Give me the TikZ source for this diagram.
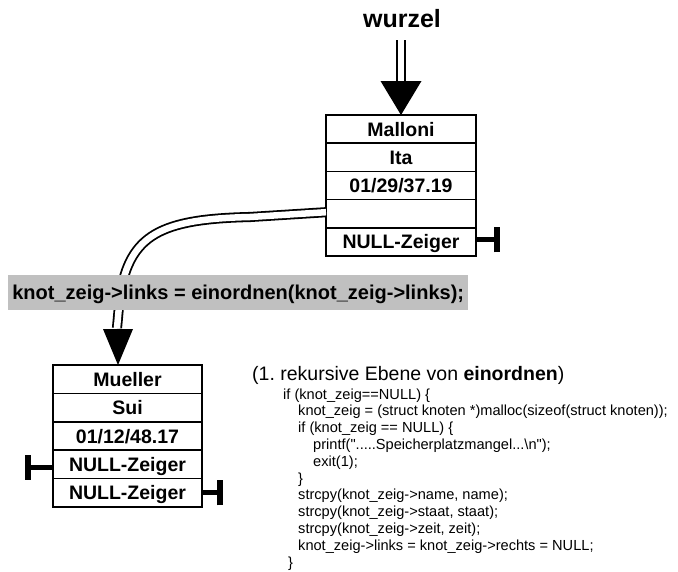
\documentclass[tikz,border=0pt]{standalone}
\usepackage{fontspec}
\setmainfont{Liberation Sans}
\newfontfamily\plainsans{Liberation Sans}
\usetikzlibrary{calc}
\definecolor{barfill}{RGB}{192,192,192}

\tikzset{
  cell/.style={draw, line width=1.6pt, minimum width=150pt, minimum height=28.2pt,
    inner sep=0pt, outer sep=0pt, text height=14pt, text depth=0pt,
    font=\fontsize{19.5}{22}\selectfont\bfseries},
  frame/.style={line width=2.8pt},
  dbl/.style={draw=black, line width=1.8pt, double=white, double distance=6.5pt},
  stub/.style={line width=5pt},
  endbar/.style={line width=5.5pt},
  code/.style={anchor=base west, inner sep=0pt, font=\plainsans\fontsize{14.6}{16.8}\selectfont},
}

\begin{document}
\frenchspacing
\begin{tikzpicture}[x=1pt,y=-1pt]
\useasboundingbox (0,0) rectangle (678,571);

% root pointer
\node[anchor=base, inner sep=0pt, font=\fontsize{25}{30}\selectfont\bfseries] (wurzel) at (402,27) {wurzel};
\coordinate (wstart) at (401,40);
\coordinate (wbase) at (401,81);

% first node: Malloni
\node[cell] (m1) at (401,129.1) {Malloni};
\node[cell, anchor=north] (m2) at (m1.south) {Ita};
\node[cell, anchor=north] (m3) at (m2.south) {01/29/37.19};
\node[cell, anchor=north] (m4) at (m3.south) {};
\node[cell, anchor=north] (m5) at (m4.south) {NULL-Zeiger};
\draw[frame] (m1.north west) rectangle (m5.south east);

% second node: Mueller
\node[cell, minimum width=149pt, minimum height=28.4pt] (u1) at (127.5,379.2) {Mueller};
\node[cell, minimum width=149pt, minimum height=28.4pt, anchor=north] (u2) at (u1.south) {Sui};
\node[cell, minimum width=149pt, minimum height=28.4pt, anchor=north] (u3) at (u2.south) {01/12/48.17};
\node[cell, minimum width=149pt, minimum height=28.4pt, anchor=north] (u4) at (u3.south) {NULL-Zeiger};
\node[cell, minimum width=149pt, minimum height=28.4pt, anchor=north] (u5) at (u4.south) {NULL-Zeiger};
\draw[frame] (u1.north west) rectangle (u5.south east);

% root pointer arrow
\draw[dbl] (wstart) -- (wbase);
\fill (m1.north) -- ++(-20.5,-34) -- ++(41,0) -- cycle;

% left link of Malloni
\coordinate (ubase) at (117,328);
\draw[dbl] ([yshift=1.5pt]m4.west) -- (250,217) .. controls (160,219) and (130,235) .. (120,295) -- (ubase);

% call line
\node[fill=barfill, anchor=north west, minimum width=460pt, minimum height=35pt,
      inner sep=0pt, text height=14.5pt, text depth=0pt,
      font=\fontsize{20}{24}\selectfont\bfseries] (call) at (8,275)
      {knot\_zeig->links = einordnen(knot\_zeig->links);};

% arrow head into Mueller
\fill ([xshift=-9.5pt]u1.north) -- ++(-15,-36) -- ++(30,0) -- cycle;

% NULL pointers
\draw[stub] ([yshift=2pt]m5.east) -- ++(21,0) coordinate (mnull);
\draw[endbar] ([yshift=-12.5pt]mnull) -- ([yshift=12.5pt]mnull);
\draw[stub] ([yshift=-3pt]u4.west) -- ++(-25,0) coordinate (lnull);
\draw[endbar] ([yshift=-12.5pt]lnull) -- ([yshift=12.5pt]lnull);
\draw[stub] (u5.east) -- ++(18,0) coordinate (rnull);
\draw[endbar] ([yshift=-12.5pt]rnull) -- ([yshift=12.5pt]rnull);

% code of the recursion level
\node[anchor=base west, inner sep=0pt, font=\fontsize{19.5}{23}\selectfont] (lvl) at (252,380)
  {(1. rekursive Ebene von \textbf{einordnen})};
\node[code] (c1) at (283,399) {if (knot\_zeig==NULL) \{};
\node[code] (c2) at (298,415.8) {knot\_zeig = (struct knoten *)malloc(sizeof(struct knoten));};
\node[code] (c3) at (298,432.6) {if (knot\_zeig == NULL) \{};
\node[code] (c4) at (313,449.4) {printf(".....Speicherplatzmangel...\textbackslash n");};
\node[code] (c5) at (313,466.2) {exit(1);};
\node[code] (c6) at (298,483) {\}};
\node[code] (c7) at (298,499.8) {strcpy(knot\_zeig->name, name);};
\node[code] (c8) at (298,516.6) {strcpy(knot\_zeig->staat, staat);};
\node[code] (c9) at (298,533.4) {strcpy(knot\_zeig->zeit, zeit);};
\node[code] (c10) at (298,550.2) {knot\_zeig->links = knot\_zeig->rechts = NULL;};
\node[code] (c11) at (288,567) {\}};
\end{tikzpicture}
\end{document}
